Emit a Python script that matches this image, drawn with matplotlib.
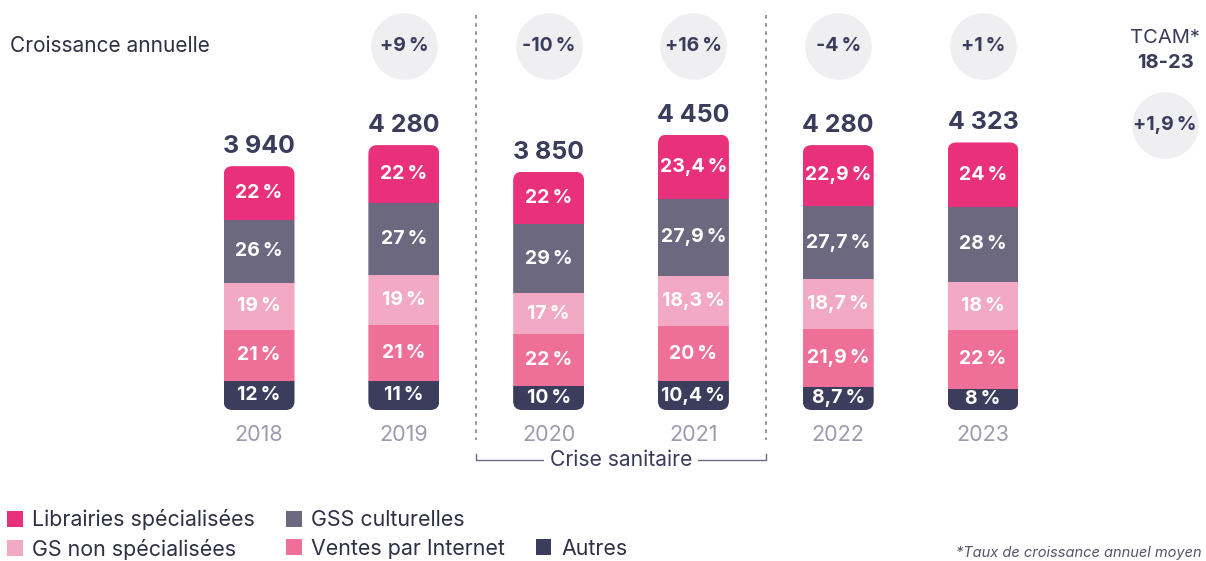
import matplotlib
matplotlib.use('Agg')
import matplotlib.pyplot as plt
from matplotlib.patches import FancyBboxPatch, Patch

plt.rcParams['font.family'] = ['Inter', 'DejaVu Sans']

years = ['2018', '2019', '2020', '2021', '2022', '2023']
totals = [3940, 4280, 3850, 4450, 4280, 4323]
total_labels = ['3 940', '4 280', '3 850', '4 450', '4 280', '4 323']

# shares in %, stacked bottom -> top
autres = [12, 11, 10, 10.4, 8.7, 8]
internet = [21, 21, 22, 20, 21.9, 22]
gs_non = [19, 19, 17, 18.3, 18.7, 18]
gss = [26, 27, 29, 27.9, 27.7, 28]
librairies = [22, 22, 22, 23.4, 22.9, 24]

series_names = ['Autres', 'Ventes par Internet', 'GS non spécialisées',
                'GSS culturelles', 'Librairies spécialisées']
series_colors = ['#3c3c5c', '#ee7099', '#f2a9c3', '#6b6880', '#e9307b']

growth = ['+9\u202f%', '-10\u202f%', '+16\u202f%', '-4\u202f%', '+1\u202f%']
tcam = '+1,9\u202f%'

DARK = '#3b3b5c'
GREY = '#9c9aae'


def fmt(v):
    s = ('%g' % v).replace('.', ',')
    return s + '\u202f%'


fig = plt.figure(figsize=(12.06, 5.61), dpi=100)
ax = fig.add_axes([0, 0, 1, 1])
ax.set_xlim(-1.789, 6.540)
ax.set_ylim(-2439, 6624)
ax.axis('off')

px_x = 1 / 144.8          # x units per pixel
px_y = 16.15              # y units per pixel
width = 0.49

series = [autres, internet, gs_non, gss, librairies]
for i, yr in enumerate(years):
    shares = [s[i] for s in series]
    tot = sum(shares)
    clip = FancyBboxPatch((i - width / 2, 0), width, totals[i],
                          boxstyle='round,pad=0,rounding_size=%f' % (9 * px_x),
                          mutation_aspect=px_y / px_x,
                          facecolor='none', edgecolor='none')
    ax.add_patch(clip)
    bottom = 0
    for sh, col in zip(shares, series_colors):
        h = sh / tot * totals[i]
        b = ax.bar(i, h, width, bottom=bottom, color=col, linewidth=0)
        b[0].set_clip_path(clip)
        ax.text(i, bottom + h / 2, fmt(sh), ha='center', va='center',
                color='white', fontsize=14, fontweight='bold')
        bottom += h
    ax.text(i, totals[i] + 8 * px_y, total_labels[i], ha='center', va='bottom',
            color=DARK, fontsize=18, fontweight='bold')
    ax.text(i, -15 * px_y, yr, ha='center', va='top', color=GREY, fontsize=15.5)

# annual growth circles
circle_y = 364 * px_y
ax.scatter(range(1, 6), [circle_y] * 5, s=2300, color='#efeff2', linewidth=0, zorder=1)
for i, g in enumerate(growth):
    ax.text(i + 1, circle_y, g, ha='center', va='center', color=DARK,
            fontsize=14, fontweight='bold', zorder=2)
ax.text(-1.789 + 10 * px_x, circle_y, 'Croissance annuelle', ha='left', va='center',
        color='#2f2f45', fontsize=15)

# TCAM
tx = 6.257
ax.scatter([tx], [285 * px_y], s=2300, color='#efeff2', linewidth=0, zorder=1)
ax.text(tx, 285 * px_y, tcam, ha='center', va='center', color=DARK,
        fontsize=14, fontweight='bold', zorder=2)
ax.text(tx, 372 * px_y, 'TCAM*', ha='center', va='center', color=DARK, fontsize=14.5)
ax.text(tx, 347 * px_y, '18-23', ha='center', va='center', color=DARK,
        fontsize=14.5, fontweight='bold')

# crisis separators
for xv in (1.5, 3.5):
    ax.plot([xv, xv], [395 * px_y, -30 * px_y], color='#8a8a9a', lw=1.3,
            linestyle=(0, (2, 2.5)))
yb = -50 * px_y
ax.plot([1.5, 1.5, 3.5, 3.5], [yb + 6 * px_y, yb, yb, yb + 6 * px_y],
        color='#6a6a80', lw=1)
ax.text(2.5, yb, 'Crise sanitaire', ha='center', va='center', color=DARK,
        fontsize=15.2, bbox=dict(facecolor='white', edgecolor='none', pad=4))

# legend (blank slot keeps "Autres" on the second row)
order = [4, 2, 3, 1, None, 0]
handles = [Patch(facecolor=series_colors[k], edgecolor='none') if k is not None
           else Patch(facecolor='none', edgecolor='none') for k in order]
labels = [series_names[k] if k is not None else '' for k in order]
fig.legend(handles, labels, ncol=3, loc='upper left', bbox_to_anchor=(0.006, 0.092),
           frameon=False, fontsize=15.4, handlelength=0.72, handleheight=0.72,
           handletextpad=0.45, columnspacing=1.45, labelspacing=0.38,
           labelcolor='#2f2f45', borderaxespad=0, borderpad=0)

fig.text(1202 / 1206, 1 - 553 / 561, '*Taux de croissance annuel moyen', ha='right',
         va='center', color='#55556a', fontsize=10.5, style='italic')

fig.savefig('out.png', dpi=100)
